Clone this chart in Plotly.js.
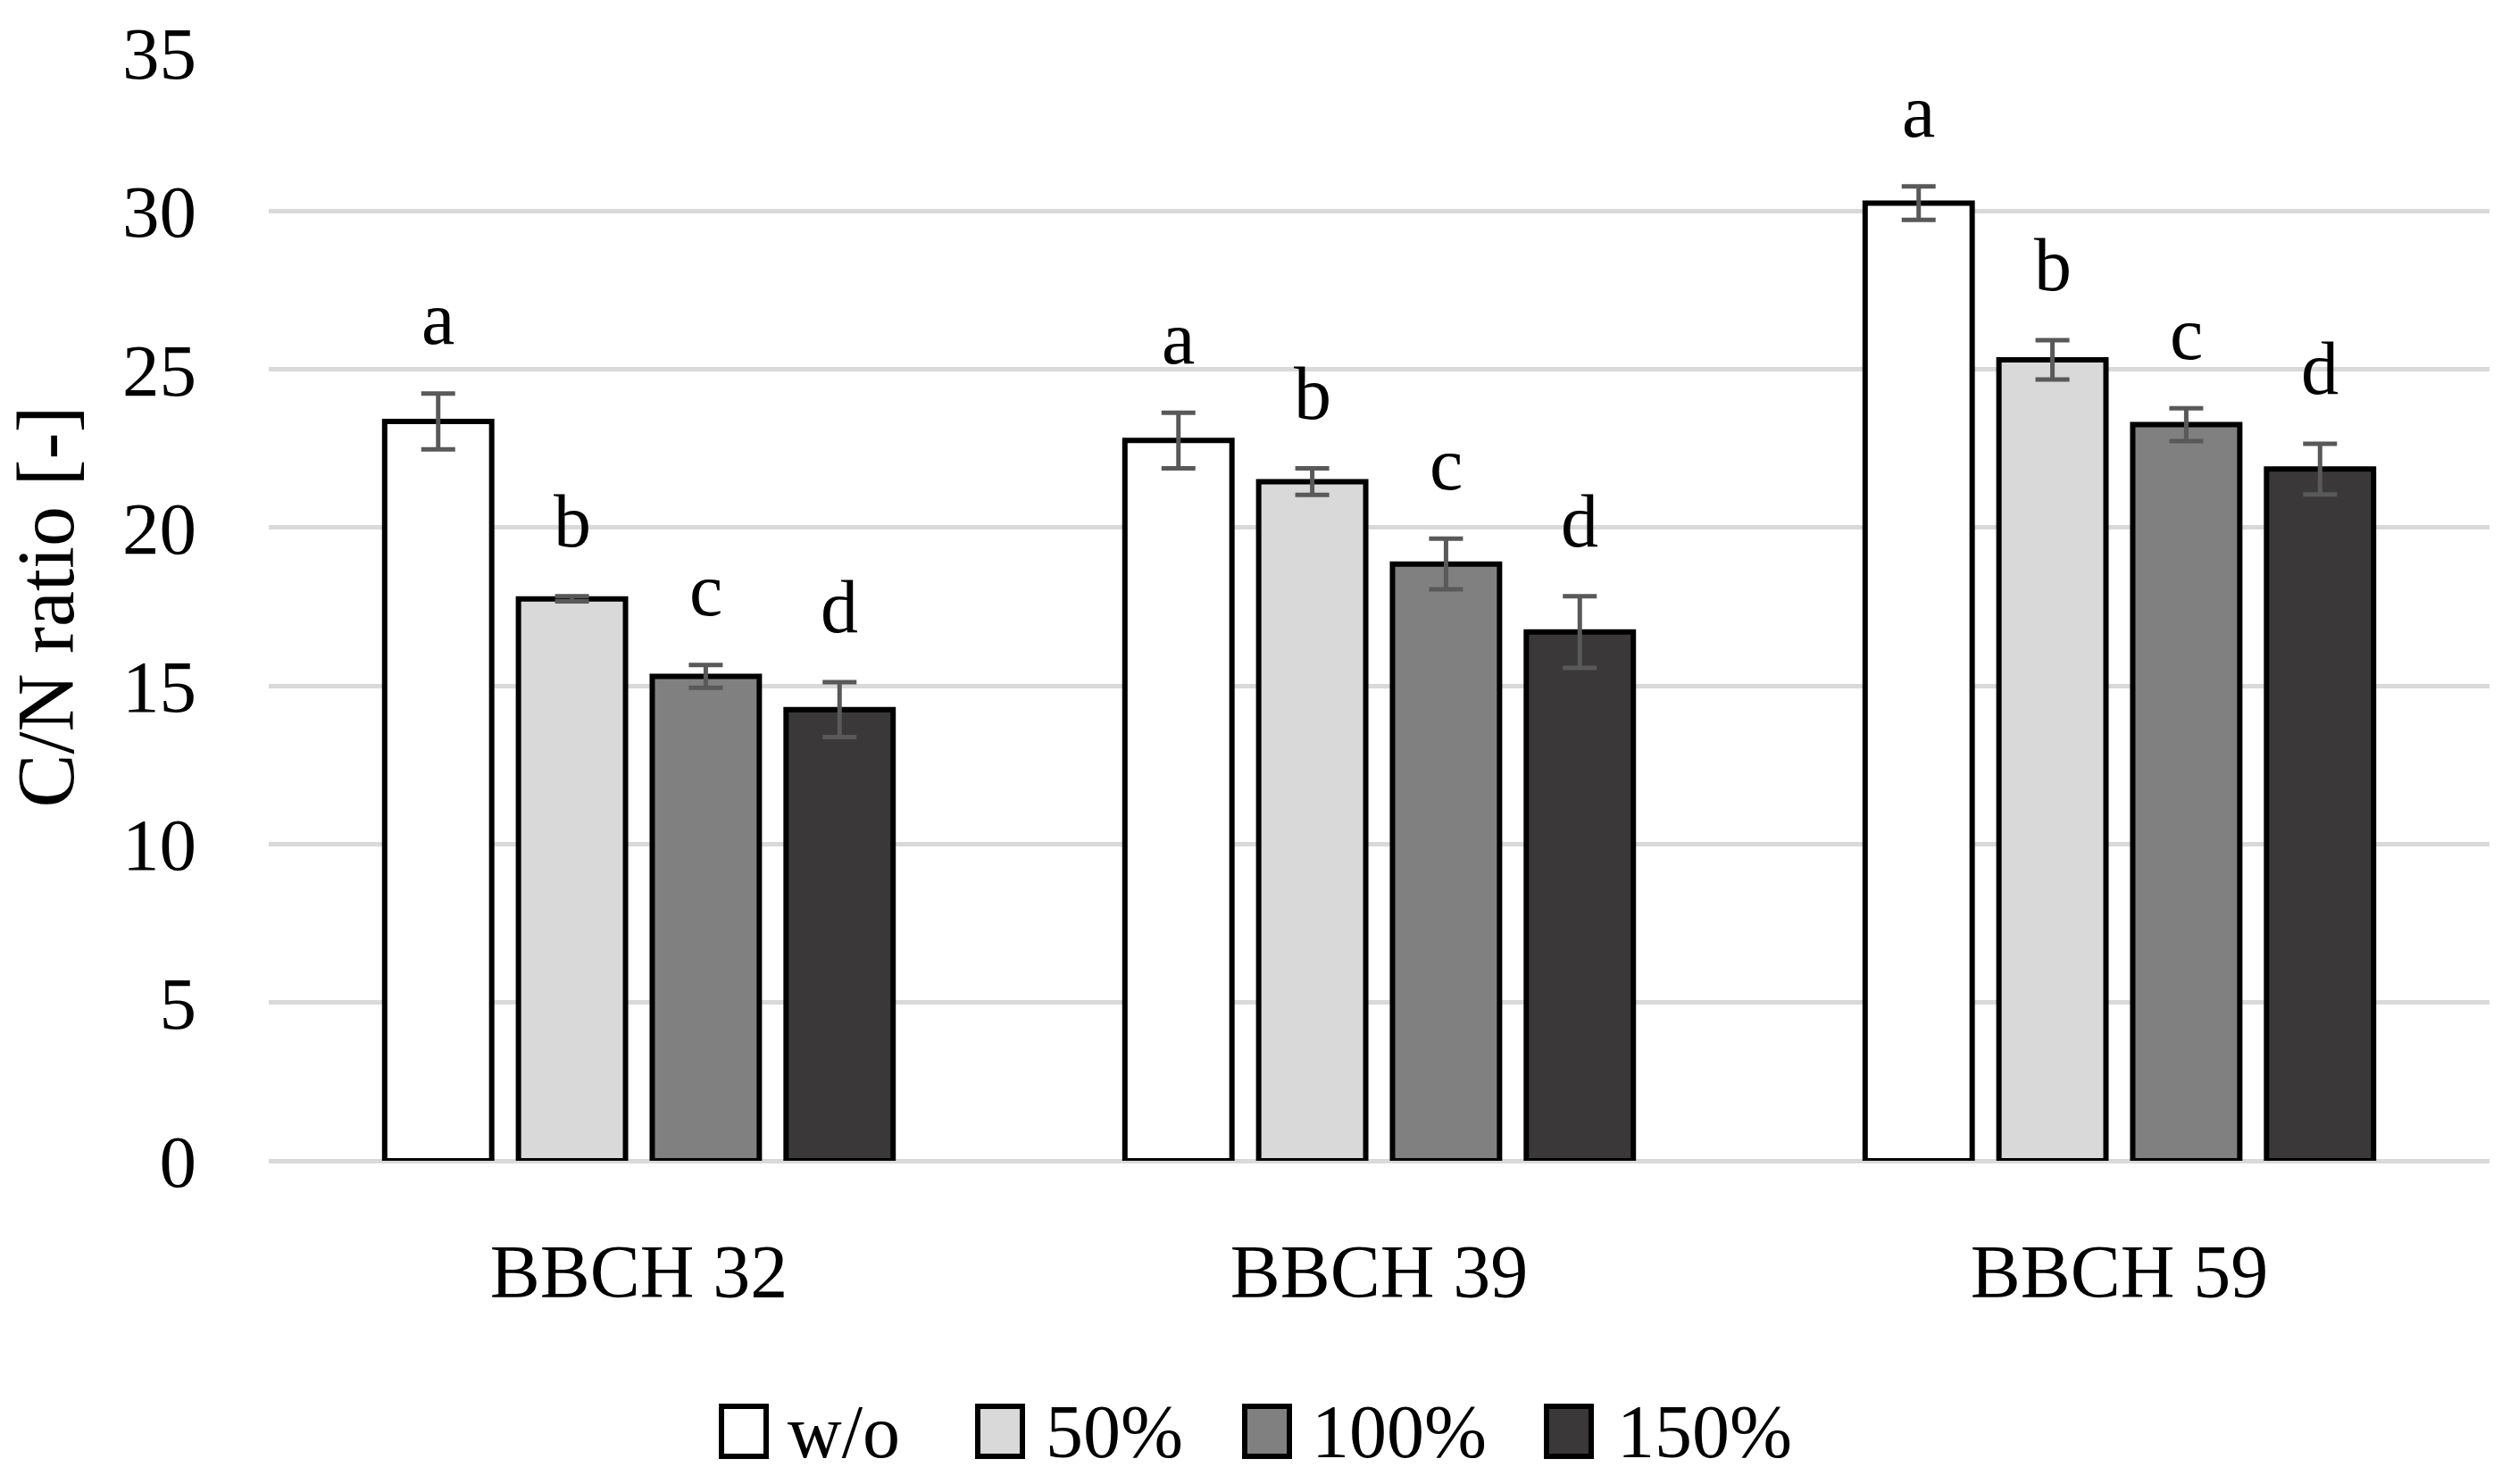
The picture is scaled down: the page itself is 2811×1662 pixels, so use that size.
<!DOCTYPE html>
<html>
<head>
<meta charset="utf-8">
<script src="https://cdn.plot.ly/plotly-3.0.1.min.js"></script>
<style>html,body{margin:0;padding:0;background:#fff;}#chart{width:2811px;height:1662px;}</style>
</head>
<body>
<div id="chart"></div>
<script>
const categories = ["BBCH 32", "BBCH 39", "BBCH 59"];
const seriesNames = ["w/o", "50%", "100%", "150%"];
const values_wo = [23.35, 22.75, 30.25];
const values_50 = [17.75, 21.45, 25.3];
const values_100 = [15.3, 18.85, 23.25];
const values_150 = [14.25, 16.7, 21.85];
const err_wo = [0.88, 0.88, 0.53];
const err_50 = [0.08, 0.42, 0.62];
const err_100 = [0.36, 0.8, 0.52];
const err_150 = [0.87, 1.13, 0.8];
const letters_wo = ["a", "a", "a"];
const letters_50 = ["b", "b", "b"];
const letters_100 = ["c", "c", "c"];
const letters_150 = ["d", "d", "d"];
const yTicks = [0, 5, 10, 15, 20, 25, 30, 35];

const colors = ["#ffffff", "#d9d9d9", "#808080", "#3a3838"];
const allValues = [values_wo, values_50, values_100, values_150];
const allErrs = [err_wo, err_50, err_100, err_150];
const allLetters = [letters_wo, letters_50, letters_100, letters_150];

const FONT = "Liberation Serif, Times New Roman, serif";
const W = 2811, H = 1662;
const M = { l: 301, r: 23, t: 59, b: 362 };
const bargap = 0.277;
const bargroupgap = 0.2;

const traces = seriesNames.map((name, i) => ({
  type: "bar",
  name: name,
  x: categories,
  y: allValues[i],
  marker: { color: colors[i], line: { color: "#000000", width: 6 } },
  error_y: { type: "data", array: allErrs[i], visible: true, color: "#595959", thickness: 5, width: 19 },
  hoverinfo: "skip",
  showlegend: false
}));

const annotations = [];
const shapes = [];
const nS = seriesNames.length;
const slot = (1 - bargap) / nS;
for (let i = 0; i < nS; i++) {
  for (let c = 0; c < categories.length; c++) {
    annotations.push({
      x: c - (1 - bargap) / 2 + slot * (i + 0.5),
      y: allValues[i][c] + allErrs[i][c],
      xref: "x", yref: "y",
      text: allLetters[i][c],
      showarrow: false,
      yanchor: "middle",
      yshift: 84,
      font: { family: FONT, size: 84, color: "#000" }
    });
  }
}

// Custom legend (layout positions in pixels, converted to paper coords)
const pw = W - M.l - M.r, ph = H - M.t - M.b;
const px2x = px => (px - M.l) / pw;
const py2y = py => (H - M.b - py) / ph;
const legBoxCenters = [833, 1120, 1419, 1757];
const legTextStarts = [880, 1169, 1467, 1809];
const legY = 1603, boxW = 50, boxH = 56;
for (let i = 0; i < nS; i++) {
  shapes.push({
    type: "rect", xref: "paper", yref: "paper",
    x0: px2x(legBoxCenters[i] - boxW / 2), x1: px2x(legBoxCenters[i] + boxW / 2),
    y0: py2y(legY + boxH / 2), y1: py2y(legY - boxH / 2),
    fillcolor: colors[i], line: { color: "#000", width: 6 }
  });
  annotations.push({
    xref: "paper", yref: "paper",
    x: px2x(legTextStarts[i]), y: py2y(legY),
    xanchor: "left", yanchor: "middle",
    text: seriesNames[i], showarrow: false,
    font: { family: FONT, size: 84, color: "#000" }
  });
}

const layout = {
  width: W, height: H,
  paper_bgcolor: "#ffffff", plot_bgcolor: "#ffffff",
  margin: { l: M.l, r: M.r, t: M.t, b: M.b, pad: 0 },
  barmode: "group",
  bargap: bargap,
  bargroupgap: bargroupgap,
  font: { family: FONT, size: 84, color: "#000" },
  xaxis: {
    type: "category",
    showgrid: false, showline: false, zeroline: false,
    ticks: "", ticklabelstandoff: 68,
    tickfont: { family: FONT, size: 84, color: "#000" }
  },
  yaxis: {
    range: [0, 35],
    tickvals: yTicks,
    ticktext: yTicks.map(String),
    showgrid: true, gridcolor: "#d9d9d9", gridwidth: 5,
    zeroline: true, zerolinecolor: "#d9d9d9", zerolinewidth: 5,
    showline: false, ticks: "",
    ticklabelstandoff: 80,
    tickfont: { family: FONT, size: 83, color: "#000" },
    title: { text: "C/N ratio [-]", font: { family: FONT, size: 90, color: "#000" }, standoff: 24 }
  },
  showlegend: false,
  annotations: annotations,
  shapes: shapes
};

Plotly.newPlot("chart", traces, layout, { staticPlot: true, displayModeBar: false });
</script>
</body>
</html>
